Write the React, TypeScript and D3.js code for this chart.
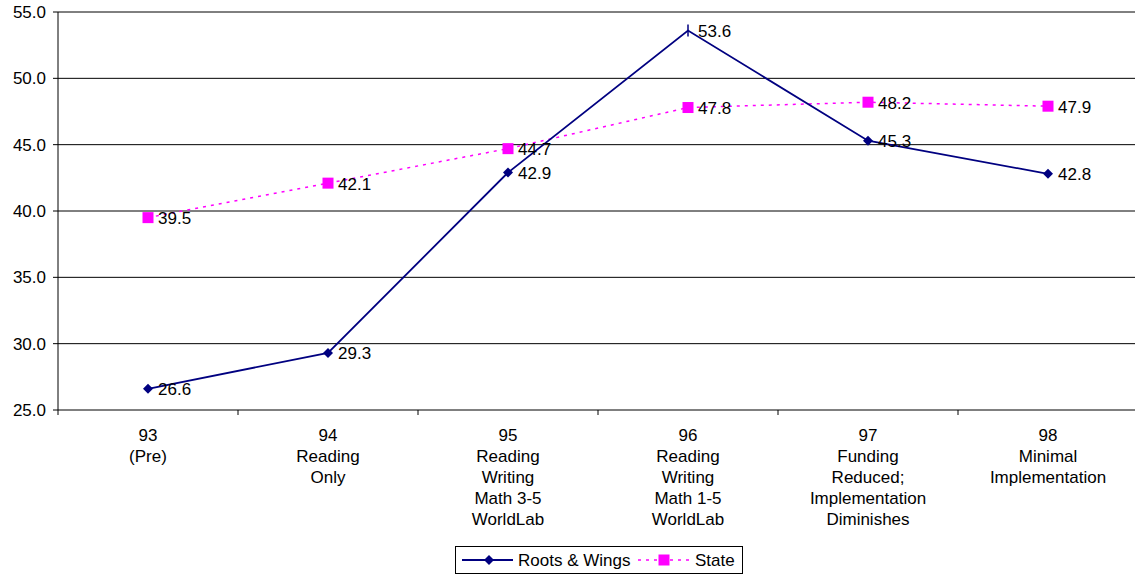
import React from "react";
import * as d3 from "d3";

const categories: string[][] = [
  ["93", "(Pre)"],
  ["94", "Reading", "Only"],
  ["95", "Reading", "Writing", "Math 3-5", "WorldLab"],
  ["96", "Reading", "Writing", "Math 1-5", "WorldLab"],
  ["97", "Funding", "Reduced;", "Implementation", "Diminishes"],
  ["98", "Minimal", "Implementation"],
];
const rootsWings = [26.6, 29.3, 42.9, 53.6, 45.3, 42.8];
const stateVals = [39.5, 42.1, 44.7, 47.8, 48.2, 47.9];
const yTicks = [25, 30, 35, 40, 45, 50, 55];

const W = 1135, H = 575;
const left = 58, top = 12, bottom = 410, band = 180;
const NAVY = "#000080", MAG = "#FF00FF";
const FONT = "'Liberation Sans', Arial, sans-serif";
const FS = 17;

export default function App() {
  const x = d3.scaleBand<number>().domain(d3.range(categories.length)).range([left, left + band * categories.length]);
  const cx = (i: number) => (x(i) as number) + x.bandwidth() / 2;
  const y = d3.scaleLinear().domain([25, 55]).range([bottom, top]);
  const line = d3.line<number>().x((_, i) => cx(i)).y((d) => y(d));
  const right = W;
  const diamond = (px: number, py: number, r = 5) => `M${px},${py - r}L${px + r},${py}L${px},${py + r}L${px - r},${py}Z`;

  return (
    <svg width={W} height={H} style={{ position: "absolute", left: 0, top: 0 }} fontFamily={FONT}>
      <rect width={W} height={H} fill="#fff" />
      {yTicks.map((t) => (
        <g key={t}>
          <line x1={left - 5} x2={right} y1={y(t)} y2={y(t)} stroke="#000" strokeWidth={1} />
          <text x={left - 12} y={y(t)} dy="0.35em" textAnchor="end" fontSize={FS}>{t.toFixed(1)}</text>
        </g>
      ))}
      <line x1={left} x2={left} y1={top} y2={bottom + 5} stroke="#000" />
      {categories.map((c, i) => (
        <g key={i}>
          {i > 0 && <line x1={x(i)} x2={x(i)} y1={bottom} y2={bottom + 5} stroke="#000" />}
          {c.map((s, j) => (
            <text key={j} x={cx(i)} y={441 + j * 21} textAnchor="middle" fontSize={FS}>{s}</text>
          ))}
        </g>
      ))}
      <path d={line(stateVals) || ""} fill="none" stroke={MAG} strokeWidth={1.5} strokeDasharray="3,5" />
      <path d={line(rootsWings) || ""} fill="none" stroke={NAVY} strokeWidth={1.8} />
      {stateVals.map((v, i) => (
        <g key={i}>
          <rect x={cx(i) - 5.5} y={y(v) - 5.5} width={11} height={11} fill={MAG} />
          <text x={cx(i) + 10} y={y(v)} dy="0.38em" fontSize={FS}>{v.toFixed(1)}</text>
        </g>
      ))}
      {rootsWings.map((v, i) => (
        <g key={i}>
          {i === 3 ? (
            <line x1={cx(i)} x2={cx(i)} y1={y(v) - 6} y2={y(v) + 6} stroke={NAVY} strokeWidth={1.5} />
          ) : (
            <path d={diamond(cx(i), y(v))} fill={NAVY} />
          )}
          <text x={cx(i) + 10} y={y(v)} dy="0.38em" fontSize={FS}>{v.toFixed(1)}</text>
        </g>
      ))}
      <g>
        <rect x={455.5} y={546.5} width={287} height={27} fill="#fff" stroke="#000" />
        <line x1={462} x2={513} y1={560} y2={560} stroke={NAVY} strokeWidth={1.8} />
        <path d={diamond(489, 560)} fill={NAVY} />
        <text x={518} y={560} dy="0.36em" fontSize={FS}>Roots &amp; Wings</text>
        <line x1={638} x2={690} y1={560} y2={560} stroke={MAG} strokeWidth={1.5} strokeDasharray="3,5" />
        <rect x={658.5} y={554.5} width={11} height={11} fill={MAG} />
        <text x={695} y={560} dy="0.36em" fontSize={FS}>State</text>
      </g>
    </svg>
  );
}
